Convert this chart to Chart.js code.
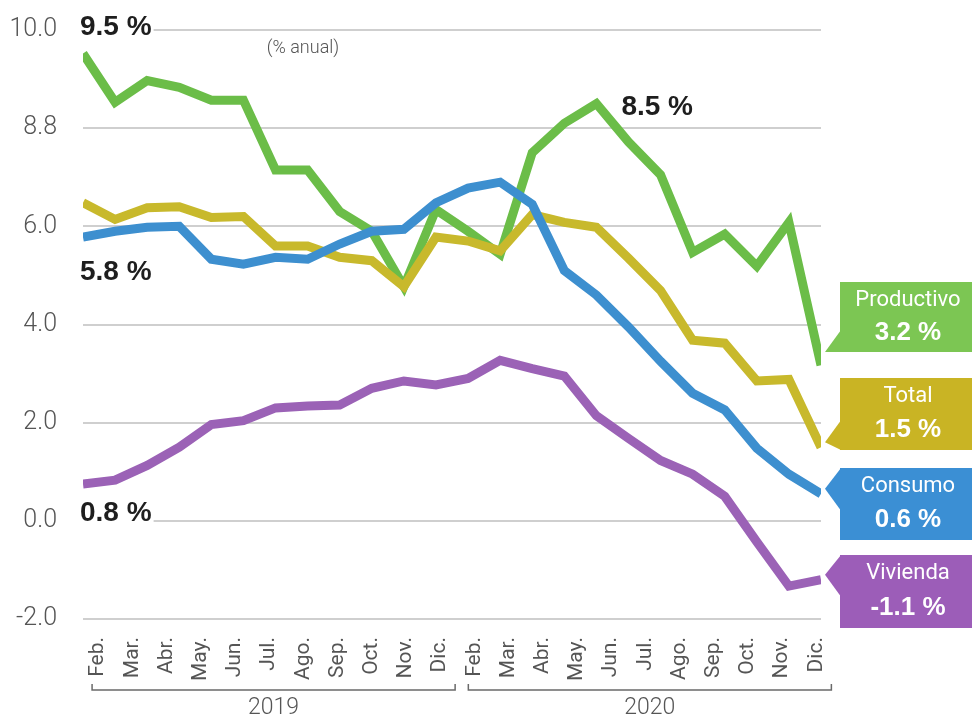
<!DOCTYPE html>
<html lang="es">
<head>
    <meta charset="UTF-8">
    <title>Crédito por destino (% anual)</title>
    <script src="https://cdn.jsdelivr.net/npm/chart.js"></script>
    <style>
        body {
            margin: 0;
            padding: 0;
            background: #ffffff;
        }
        #wrap {
            position: relative;
            width: 972px;
            height: 726px;
        }
    </style>
</head>
<body>
    <div id="wrap">
        <canvas id="chartCredito"></canvas>
    </div>

    <script>
        // month labels shown under the axis (no Ene. in the original)
        var months = ['Feb.', 'Mar.', 'Abr.', 'May.', 'Jun.', 'Jul.', 'Ago.', 'Sep.', 'Oct.', 'Nov.', 'Dic.',
                      'Feb.', 'Mar.', 'Abr.', 'May.', 'Jun.', 'Jul.', 'Ago.', 'Sep.', 'Oct.', 'Nov.', 'Dic.'];
        var years = ['2019', '2020'];
        var yTickLabels = ['-2.0', '0.0', '2.0', '4.0', '6.0', '8.8', '10.0'];

        // series values, one per month
        var productivo = [9.52, 8.53, 8.97, 8.83, 8.57, 8.57, 7.15, 7.15, 6.30, 5.90, 4.77, 6.34,
                          5.90, 5.43, 7.50, 8.10, 8.50, 7.72, 7.05, 5.47, 5.84, 5.19, 6.08, 3.17];
        var total = [6.48, 6.14, 6.38, 6.40, 6.18, 6.20, 5.60, 5.60, 5.37, 5.30, 4.77, 5.78,
                     5.70, 5.50, 6.24, 6.08, 5.98, 5.35, 4.69, 3.68, 3.62, 2.85, 2.88, 1.50];
        var consumo = [5.78, 5.90, 5.98, 6.00, 5.33, 5.23, 5.37, 5.33, 5.64, 5.90, 5.94, 6.48,
                       6.78, 6.90, 6.45, 5.10, 4.60, 3.95, 3.25, 2.60, 2.26, 1.48, 0.95, 0.55];
        var vivienda = [0.75, 0.83, 1.13, 1.50, 1.96, 2.04, 2.30, 2.34, 2.36, 2.70, 2.85, 2.77,
                        2.90, 3.27, 3.10, 2.95, 2.14, 1.68, 1.23, 0.95, 0.50, -0.43, -1.33, -1.20];

        var seriesNames = ['Productivo', 'Total', 'Consumo', 'Vivienda'];
        var endTexts = ['3.2 %', '1.5 %', '0.6 %', '-1.1 %'];

        function toPoints(arr) {
            return arr.map(function(v, i) { return { x: i, y: v }; });
        }

        var lineColors = { Productivo: '#6bbd48', Total: '#c8b92c', Consumo: '#3d8fcf', Vivienda: '#9b62b6' };
        var boxColors = { Productivo: '#7cc653', Total: '#c9b424', Consumo: '#3b8fd4', Vivienda: '#9c5db8' };

        // callouts and end boxes
        var decorations = {
            id: 'decorations',
            beforeDatasetsDraw: function(chart) {
                var ctx = chart.ctx;
                var xs = chart.scales.x, ys = chart.scales.y;
                var callouts = [
                    { text: '9.5 %', data: productivo, i: 0, dx: -3, dy: -26 },
                    { text: '5.8 %', data: consumo, i: 0, dx: -3, dy: 35 },
                    { text: '0.8 %', data: vivienda, i: 0, dx: -3, dy: 29 },
                    { text: '8.5 %', data: productivo, i: 16, dx: 25, dy: 4 }
                ];
                ctx.save();
                ctx.font = 'bold 28px "Liberation Sans", Arial, sans-serif';
                ctx.textBaseline = 'middle';
                ctx.textAlign = 'left';
                callouts.forEach(function(c) {
                    var x = xs.getPixelForValue(c.i) + c.dx;
                    var y = ys.getPixelForValue(c.data[c.i]) + c.dy;
                    var w = ctx.measureText(c.text).width;
                    ctx.fillStyle = '#ffffff';
                    ctx.fillRect(x - 2, y - 14, w + 4, 28);
                    ctx.fillStyle = '#1e1e1e';
                    ctx.fillText(c.text, x, y);
                });
                ctx.font = '300 18px Roboto, sans-serif';
                ctx.fillStyle = '#555555';
                ctx.textAlign = 'center';
                ctx.fillText('(% anual)', 303, 48);
                ctx.restore();
            },
            afterDraw: function(chart) {
                var ctx = chart.ctx;
                var xs = chart.scales.x, ys = chart.scales.y;
                ctx.save();

                // year brackets under the month labels
                var t = xs.ticks;
                var groups = [[0, 10], [11, 21]];
                ctx.strokeStyle = '#6a6a6a';
                ctx.lineWidth = 1.5;
                ctx.fillStyle = '#555555';
                ctx.font = '300 23px Roboto, sans-serif';
                ctx.textAlign = 'center';
                ctx.textBaseline = 'middle';
                groups.forEach(function(g, k) {
                    var x0 = xs.getPixelForValue(t[g[0]].value) - 6;
                    var x1 = xs.getPixelForValue(t[g[1]].value) + 15;
                    var by = 690;
                    ctx.beginPath();
                    ctx.moveTo(x0, by - 6);
                    ctx.lineTo(x0, by);
                    ctx.lineTo(x1, by);
                    ctx.lineTo(x1, by - 6);
                    ctx.stroke();
                    ctx.fillText(years[k], (x0 + x1) / 2, 708);
                });

                // end boxes on the right
                var boxes = [
                    { name: 'Productivo', data: productivo, top: 282, bottom: 352 },
                    { name: 'Total', data: total, top: 378, bottom: 450 },
                    { name: 'Consumo', data: consumo, top: 468, bottom: 540 },
                    { name: 'Vivienda', data: vivienda, top: 555, bottom: 628 }
                ];
                var left = 840, right = chart.width;
                boxes.forEach(function(b, k) {
                    var last = b.data.length - 1;
                    var ye = ys.getPixelForValue(b.data[last]);
                    var tip = Math.max(b.top, Math.min(b.bottom, ye - 5));
                    ctx.fillStyle = boxColors[b.name];
                    ctx.fillRect(left, b.top, right - left, b.bottom - b.top);
                    ctx.beginPath();
                    ctx.moveTo(left + 1, Math.max(b.top, tip - 22));
                    ctx.lineTo(825, tip);
                    ctx.lineTo(left + 1, Math.min(b.bottom, tip + 22));
                    ctx.closePath();
                    ctx.fill();
                    var cx = (left + right) / 2 + 2;
                    var h = b.bottom - b.top;
                    ctx.fillStyle = '#ffffff';
                    ctx.font = '22px Roboto, sans-serif';
                    ctx.fillText(seriesNames[k], cx, b.top + h * 0.26);
                    ctx.font = 'bold 26px "Liberation Sans", Arial, sans-serif';
                    ctx.fillText(endTexts[k], cx, b.top + h * 0.72);
                });
                ctx.restore();
            }
        };

        function lineSet(name, values) {
            return {
                label: name,
                data: toPoints(values),
                borderColor: lineColors[name],
                backgroundColor: lineColors[name],
                borderWidth: 9,
                pointRadius: 0,
                fill: false,
                tension: 0
            };
        }

        new Chart(document.getElementById('chartCredito'), {
            type: 'line',
            data: {
                // first dataset ends up on top
                datasets: [
                    lineSet('Consumo', consumo),
                    lineSet('Total', total),
                    lineSet('Productivo', productivo),
                    lineSet('Vivienda', vivienda)
                ]
            },
            options: {
                responsive: true,
                maintainAspectRatio: false,
                animation: false,
                layout: { padding: { top: 30, right: 151, bottom: 0, left: 0 } },
                plugins: {
                    legend: { display: false },
                    tooltip: { enabled: false }
                },
                scales: {
                    x: {
                        type: 'linear',
                        min: 0,
                        max: productivo.length - 1,
                        grid: { display: false },
                        border: { display: false },
                        afterBuildTicks: function(scale) {
                            scale.ticks = months.map(function(m, k) {
                                return { value: 0.47 + k * 1.066 };
                            });
                        },
                        afterFit: function(scale) {
                            scale.height = 107;
                            scale.paddingTop = 0;
                            scale.paddingBottom = 0;
                        },
                        ticks: {
                            autoSkip: false,
                            minRotation: 90,
                            maxRotation: 90,
                            padding: 10,
                            color: '#555555',
                            font: { family: 'Roboto', size: 21, weight: '400' },
                            callback: function(v, i) { return months[i]; }
                        }
                    },
                    y: {
                        min: -2,
                        max: 10,
                        grid: { color: '#cfcfcf', lineWidth: 2, drawTicks: false },
                        border: { display: false },
                        afterFit: function(scale) {
                            scale.width = 83;
                            scale.paddingTop = 0;
                            scale.paddingBottom = 0;
                        },
                        ticks: {
                            stepSize: 2,
                            padding: 26,
                            color: '#555555',
                            font: { family: 'Roboto', size: 25, weight: '300' },
                            callback: function(v) { return yTickLabels[Math.round((v + 2) / 2)]; }
                        }
                    }
                }
            },
            plugins: [decorations]
        });
    </script>
</body>
</html>
